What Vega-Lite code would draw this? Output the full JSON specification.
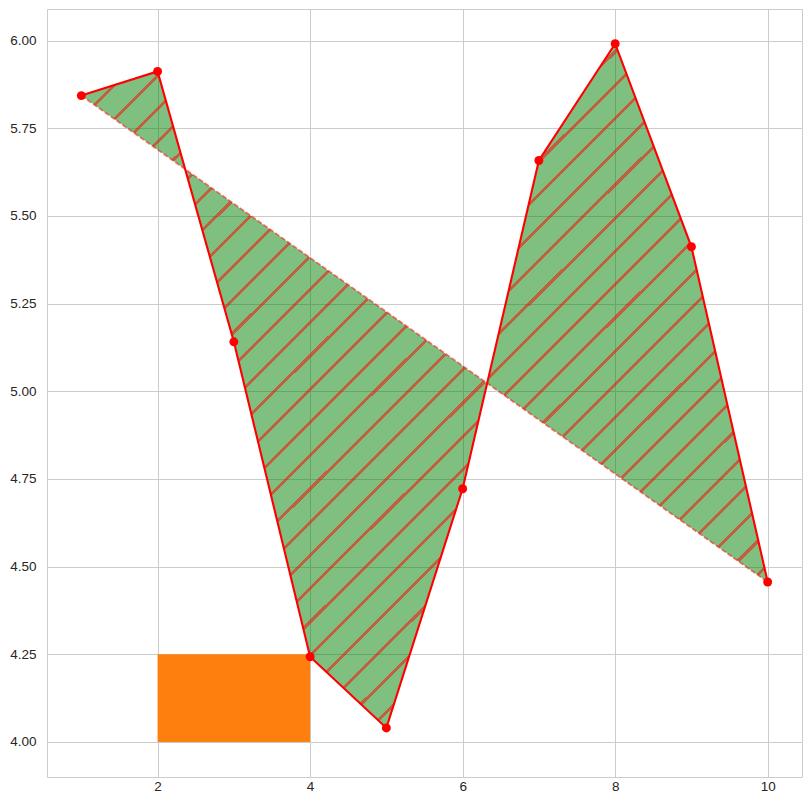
{
  "$schema": "https://vega.github.io/schema/vega-lite/v6.json",
  "width": 755,
  "height": 768,
  "autosize": "none",
  "padding": {"left": 47, "top": 9, "right": 9, "bottom": 34},
  "background": "white",
  "config": {
    "view": {"stroke": "#cccccc", "strokeWidth": 1},
    "axis": {
      "domain": false,
      "ticks": false,
      "tickSize": 0,
      "grid": true,
      "gridColor": "#cccccc",
      "gridWidth": 1,
      "labelFont": "Liberation Sans",
      "labelFontSize": 13.5,
      "labelColor": "#262626",
      "title": null
    }
  },
  "datasets": {
    "pts": [
      {"x": 1, "y": 5.843},
      {"x": 2, "y": 5.912},
      {"x": 3, "y": 5.141},
      {"x": 4, "y": 4.243},
      {"x": 5, "y": 4.040},
      {"x": 6, "y": 4.722},
      {"x": 7, "y": 5.658},
      {"x": 8, "y": 5.991},
      {"x": 9, "y": 5.412},
      {"x": 10, "y": 4.456}
    ],
    "rect": [
      {"x": 2, "x2": 4, "y": 4.0, "y2": 4.25}
    ]
  },
  "encoding": {
    "x": {
      "field": "x", "type": "quantitative",
      "scale": {"domain": [0.55, 10.45], "nice": false, "zero": false},
      "axis": {"values": [2, 4, 6, 8, 10], "labelPadding": 2}
    },
    "y": {
      "field": "y", "type": "quantitative",
      "scale": {"domain": [3.9, 6.09], "nice": false, "zero": false},
      "axis": {"values": [4.0, 4.25, 4.5, 4.75, 5.0, 5.25, 5.5, 5.75, 6.0], "format": ".2f", "labelPadding": 11}
    }
  },
  "layer": [
    {
      "data": {"name": "rect"},
      "mark": {"type": "rect", "color": "#ff7f0e", "opacity": 1},
      "encoding": {
        "x2": {"field": "x2"},
        "y2": {"field": "y2"}
      }
    },
    {
      "data": {"name": "pts"},
      "mark": {
        "type": "line",
        "strokeWidth": 0,
        "stroke": null,
        "fill": {
          "gradient": "linear",
          "x1": 0, "y1": 0, "x2": 1, "y2": 1,
          "stops": [
            {"offset": 0, "color": "rgba(0,128,0,0.5)"},
            {"offset": 0.0045, "color": "rgba(0,128,0,0.5)"}, {"offset": 0.0045, "color": "rgba(170,43,0,0.75)"}, {"offset": 0.0075, "color": "rgba(170,43,0,0.75)"}, {"offset": 0.0075, "color": "rgba(0,128,0,0.5)"},
            {"offset": 0.0288, "color": "rgba(0,128,0,0.5)"}, {"offset": 0.0288, "color": "rgba(170,43,0,0.75)"}, {"offset": 0.0318, "color": "rgba(170,43,0,0.75)"}, {"offset": 0.0318, "color": "rgba(0,128,0,0.5)"},
            {"offset": 0.0531, "color": "rgba(0,128,0,0.5)"}, {"offset": 0.0531, "color": "rgba(170,43,0,0.75)"}, {"offset": 0.0561, "color": "rgba(170,43,0,0.75)"}, {"offset": 0.0561, "color": "rgba(0,128,0,0.5)"},
            {"offset": 0.0774, "color": "rgba(0,128,0,0.5)"}, {"offset": 0.0774, "color": "rgba(170,43,0,0.75)"}, {"offset": 0.0804, "color": "rgba(170,43,0,0.75)"}, {"offset": 0.0804, "color": "rgba(0,128,0,0.5)"},
            {"offset": 0.1017, "color": "rgba(0,128,0,0.5)"}, {"offset": 0.1017, "color": "rgba(170,43,0,0.75)"}, {"offset": 0.1047, "color": "rgba(170,43,0,0.75)"}, {"offset": 0.1047, "color": "rgba(0,128,0,0.5)"},
            {"offset": 0.1260, "color": "rgba(0,128,0,0.5)"}, {"offset": 0.1260, "color": "rgba(170,43,0,0.75)"}, {"offset": 0.1290, "color": "rgba(170,43,0,0.75)"}, {"offset": 0.1290, "color": "rgba(0,128,0,0.5)"},
            {"offset": 0.1503, "color": "rgba(0,128,0,0.5)"}, {"offset": 0.1503, "color": "rgba(170,43,0,0.75)"}, {"offset": 0.1533, "color": "rgba(170,43,0,0.75)"}, {"offset": 0.1533, "color": "rgba(0,128,0,0.5)"},
            {"offset": 0.1746, "color": "rgba(0,128,0,0.5)"}, {"offset": 0.1746, "color": "rgba(170,43,0,0.75)"}, {"offset": 0.1776, "color": "rgba(170,43,0,0.75)"}, {"offset": 0.1776, "color": "rgba(0,128,0,0.5)"},
            {"offset": 0.1989, "color": "rgba(0,128,0,0.5)"}, {"offset": 0.1989, "color": "rgba(170,43,0,0.75)"}, {"offset": 0.2019, "color": "rgba(170,43,0,0.75)"}, {"offset": 0.2019, "color": "rgba(0,128,0,0.5)"},
            {"offset": 0.2232, "color": "rgba(0,128,0,0.5)"}, {"offset": 0.2232, "color": "rgba(170,43,0,0.75)"}, {"offset": 0.2262, "color": "rgba(170,43,0,0.75)"}, {"offset": 0.2262, "color": "rgba(0,128,0,0.5)"},
            {"offset": 0.2475, "color": "rgba(0,128,0,0.5)"}, {"offset": 0.2475, "color": "rgba(170,43,0,0.75)"}, {"offset": 0.2505, "color": "rgba(170,43,0,0.75)"}, {"offset": 0.2505, "color": "rgba(0,128,0,0.5)"},
            {"offset": 0.2718, "color": "rgba(0,128,0,0.5)"}, {"offset": 0.2718, "color": "rgba(170,43,0,0.75)"}, {"offset": 0.2748, "color": "rgba(170,43,0,0.75)"}, {"offset": 0.2748, "color": "rgba(0,128,0,0.5)"},
            {"offset": 0.2961, "color": "rgba(0,128,0,0.5)"}, {"offset": 0.2961, "color": "rgba(170,43,0,0.75)"}, {"offset": 0.2991, "color": "rgba(170,43,0,0.75)"}, {"offset": 0.2991, "color": "rgba(0,128,0,0.5)"},
            {"offset": 0.3204, "color": "rgba(0,128,0,0.5)"}, {"offset": 0.3204, "color": "rgba(170,43,0,0.75)"}, {"offset": 0.3234, "color": "rgba(170,43,0,0.75)"}, {"offset": 0.3234, "color": "rgba(0,128,0,0.5)"},
            {"offset": 0.3447, "color": "rgba(0,128,0,0.5)"}, {"offset": 0.3447, "color": "rgba(170,43,0,0.75)"}, {"offset": 0.3477, "color": "rgba(170,43,0,0.75)"}, {"offset": 0.3477, "color": "rgba(0,128,0,0.5)"},
            {"offset": 0.3690, "color": "rgba(0,128,0,0.5)"}, {"offset": 0.3690, "color": "rgba(170,43,0,0.75)"}, {"offset": 0.3720, "color": "rgba(170,43,0,0.75)"}, {"offset": 0.3720, "color": "rgba(0,128,0,0.5)"},
            {"offset": 0.3933, "color": "rgba(0,128,0,0.5)"}, {"offset": 0.3933, "color": "rgba(170,43,0,0.75)"}, {"offset": 0.3963, "color": "rgba(170,43,0,0.75)"}, {"offset": 0.3963, "color": "rgba(0,128,0,0.5)"},
            {"offset": 0.4176, "color": "rgba(0,128,0,0.5)"}, {"offset": 0.4176, "color": "rgba(170,43,0,0.75)"}, {"offset": 0.4206, "color": "rgba(170,43,0,0.75)"}, {"offset": 0.4206, "color": "rgba(0,128,0,0.5)"},
            {"offset": 0.4419, "color": "rgba(0,128,0,0.5)"}, {"offset": 0.4419, "color": "rgba(170,43,0,0.75)"}, {"offset": 0.4449, "color": "rgba(170,43,0,0.75)"}, {"offset": 0.4449, "color": "rgba(0,128,0,0.5)"},
            {"offset": 0.4662, "color": "rgba(0,128,0,0.5)"}, {"offset": 0.4662, "color": "rgba(170,43,0,0.75)"}, {"offset": 0.4692, "color": "rgba(170,43,0,0.75)"}, {"offset": 0.4692, "color": "rgba(0,128,0,0.5)"},
            {"offset": 0.4905, "color": "rgba(0,128,0,0.5)"}, {"offset": 0.4905, "color": "rgba(170,43,0,0.75)"}, {"offset": 0.4935, "color": "rgba(170,43,0,0.75)"}, {"offset": 0.4935, "color": "rgba(0,128,0,0.5)"},
            {"offset": 0.5148, "color": "rgba(0,128,0,0.5)"}, {"offset": 0.5148, "color": "rgba(170,43,0,0.75)"}, {"offset": 0.5178, "color": "rgba(170,43,0,0.75)"}, {"offset": 0.5178, "color": "rgba(0,128,0,0.5)"},
            {"offset": 0.5391, "color": "rgba(0,128,0,0.5)"}, {"offset": 0.5391, "color": "rgba(170,43,0,0.75)"}, {"offset": 0.5421, "color": "rgba(170,43,0,0.75)"}, {"offset": 0.5421, "color": "rgba(0,128,0,0.5)"},
            {"offset": 0.5634, "color": "rgba(0,128,0,0.5)"}, {"offset": 0.5634, "color": "rgba(170,43,0,0.75)"}, {"offset": 0.5664, "color": "rgba(170,43,0,0.75)"}, {"offset": 0.5664, "color": "rgba(0,128,0,0.5)"},
            {"offset": 0.5877, "color": "rgba(0,128,0,0.5)"}, {"offset": 0.5877, "color": "rgba(170,43,0,0.75)"}, {"offset": 0.5907, "color": "rgba(170,43,0,0.75)"}, {"offset": 0.5907, "color": "rgba(0,128,0,0.5)"},
            {"offset": 0.6120, "color": "rgba(0,128,0,0.5)"}, {"offset": 0.6120, "color": "rgba(170,43,0,0.75)"}, {"offset": 0.6150, "color": "rgba(170,43,0,0.75)"}, {"offset": 0.6150, "color": "rgba(0,128,0,0.5)"},
            {"offset": 0.6362, "color": "rgba(0,128,0,0.5)"}, {"offset": 0.6362, "color": "rgba(170,43,0,0.75)"}, {"offset": 0.6392, "color": "rgba(170,43,0,0.75)"}, {"offset": 0.6392, "color": "rgba(0,128,0,0.5)"},
            {"offset": 0.6605, "color": "rgba(0,128,0,0.5)"}, {"offset": 0.6605, "color": "rgba(170,43,0,0.75)"}, {"offset": 0.6635, "color": "rgba(170,43,0,0.75)"}, {"offset": 0.6635, "color": "rgba(0,128,0,0.5)"},
            {"offset": 0.6848, "color": "rgba(0,128,0,0.5)"}, {"offset": 0.6848, "color": "rgba(170,43,0,0.75)"}, {"offset": 0.6878, "color": "rgba(170,43,0,0.75)"}, {"offset": 0.6878, "color": "rgba(0,128,0,0.5)"},
            {"offset": 0.7091, "color": "rgba(0,128,0,0.5)"}, {"offset": 0.7091, "color": "rgba(170,43,0,0.75)"}, {"offset": 0.7121, "color": "rgba(170,43,0,0.75)"}, {"offset": 0.7121, "color": "rgba(0,128,0,0.5)"},
            {"offset": 0.7334, "color": "rgba(0,128,0,0.5)"}, {"offset": 0.7334, "color": "rgba(170,43,0,0.75)"}, {"offset": 0.7364, "color": "rgba(170,43,0,0.75)"}, {"offset": 0.7364, "color": "rgba(0,128,0,0.5)"},
            {"offset": 0.7577, "color": "rgba(0,128,0,0.5)"}, {"offset": 0.7577, "color": "rgba(170,43,0,0.75)"}, {"offset": 0.7607, "color": "rgba(170,43,0,0.75)"}, {"offset": 0.7607, "color": "rgba(0,128,0,0.5)"},
            {"offset": 0.7820, "color": "rgba(0,128,0,0.5)"}, {"offset": 0.7820, "color": "rgba(170,43,0,0.75)"}, {"offset": 0.7850, "color": "rgba(170,43,0,0.75)"}, {"offset": 0.7850, "color": "rgba(0,128,0,0.5)"},
            {"offset": 0.8063, "color": "rgba(0,128,0,0.5)"}, {"offset": 0.8063, "color": "rgba(170,43,0,0.75)"}, {"offset": 0.8093, "color": "rgba(170,43,0,0.75)"}, {"offset": 0.8093, "color": "rgba(0,128,0,0.5)"},
            {"offset": 0.8306, "color": "rgba(0,128,0,0.5)"}, {"offset": 0.8306, "color": "rgba(170,43,0,0.75)"}, {"offset": 0.8336, "color": "rgba(170,43,0,0.75)"}, {"offset": 0.8336, "color": "rgba(0,128,0,0.5)"},
            {"offset": 0.8549, "color": "rgba(0,128,0,0.5)"}, {"offset": 0.8549, "color": "rgba(170,43,0,0.75)"}, {"offset": 0.8579, "color": "rgba(170,43,0,0.75)"}, {"offset": 0.8579, "color": "rgba(0,128,0,0.5)"},
            {"offset": 0.8792, "color": "rgba(0,128,0,0.5)"}, {"offset": 0.8792, "color": "rgba(170,43,0,0.75)"}, {"offset": 0.8822, "color": "rgba(170,43,0,0.75)"}, {"offset": 0.8822, "color": "rgba(0,128,0,0.5)"},
            {"offset": 0.9035, "color": "rgba(0,128,0,0.5)"}, {"offset": 0.9035, "color": "rgba(170,43,0,0.75)"}, {"offset": 0.9065, "color": "rgba(170,43,0,0.75)"}, {"offset": 0.9065, "color": "rgba(0,128,0,0.5)"},
            {"offset": 0.9278, "color": "rgba(0,128,0,0.5)"}, {"offset": 0.9278, "color": "rgba(170,43,0,0.75)"}, {"offset": 0.9308, "color": "rgba(170,43,0,0.75)"}, {"offset": 0.9308, "color": "rgba(0,128,0,0.5)"},
            {"offset": 0.9521, "color": "rgba(0,128,0,0.5)"}, {"offset": 0.9521, "color": "rgba(170,43,0,0.75)"}, {"offset": 0.9551, "color": "rgba(170,43,0,0.75)"}, {"offset": 0.9551, "color": "rgba(0,128,0,0.5)"},
            {"offset": 0.9764, "color": "rgba(0,128,0,0.5)"}, {"offset": 0.9764, "color": "rgba(170,43,0,0.75)"}, {"offset": 0.9794, "color": "rgba(170,43,0,0.75)"}, {"offset": 0.9794, "color": "rgba(0,128,0,0.5)"},
            {"offset": 1, "color": "rgba(0,128,0,0.5)"}
          ]
        }
      }
    },
    {
      "data": {"name": "pts"},
      "transform": [{"filter": "datum.x == 1 || datum.x == 10"}],
      "mark": {"type": "line", "color": "#ff0000", "opacity": 0.5, "strokeWidth": 1.8, "strokeDash": [5, 2.2]}
    },
    {
      "data": {"name": "pts"},
      "mark": {"type": "line", "color": "#ff0000", "strokeWidth": 2.1}
    },
    {
      "data": {"name": "pts"},
      "mark": {"type": "point", "filled": true, "color": "#ff0000", "opacity": 1, "size": 80, "shape": "circle"}
    }
  ]
}
